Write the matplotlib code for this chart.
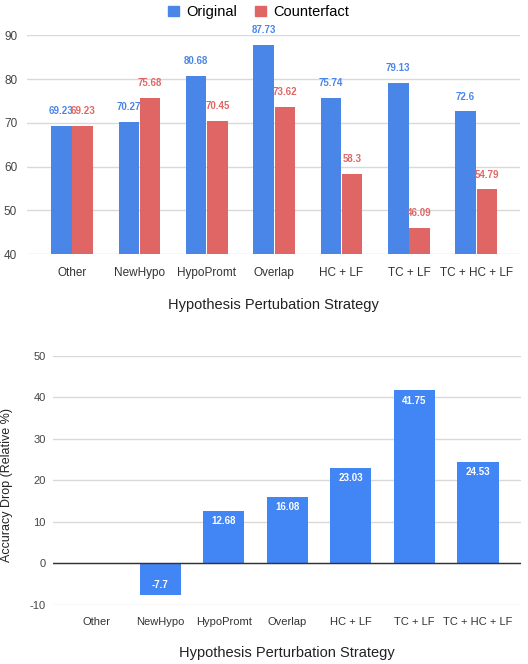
import numpy as np
import matplotlib.pyplot as plt
from matplotlib.patches import Patch

plt.rcParams['font.family'] = ['Liberation Sans', 'DejaVu Sans']
plt.rcParams['axes.unicode_minus'] = False

categories = ['Other', 'NewHypo', 'HypoPromt', 'Overlap', 'HC + LF', 'TC + LF', 'TC + HC + LF']
original = [69.23, 70.27, 80.68, 87.73, 75.74, 79.13, 72.6]
counterfact = [69.23, 75.68, 70.45, 73.62, 58.3, 46.09, 54.79]
acc_drop = [0, -7.7, 12.68, 16.08, 23.03, 41.75, 24.53]
top_yticks = [40, 50, 60, 70, 80, 90]
bot_yticks = [-10, 0, 10, 20, 30, 40, 50]

blue = '#4a86e8'
red = '#e06666'
blue2 = '#4285f4'
grid_c = '#d9d9d9'
tick_c = '#444444'

fig = plt.figure(figsize=(5.28, 6.64), dpi=100)
x = np.arange(len(categories))

# top chart: original vs counterfact
ax1 = fig.add_axes([0.051, 0.617, 0.934, 0.330])
w = 0.305
b1 = ax1.bar(x - w / 2 - 0.005, np.array(original) - 40, w, bottom=40, color=blue, zorder=3)
b2 = ax1.bar(x + w / 2 + 0.005, np.array(counterfact) - 40, w, bottom=40, color=red, zorder=3)
for bars, vals, c in [(b1, original, blue), (b2, counterfact, red)]:
    for r, v in zip(bars, vals):
        ax1.annotate(f'{v:g}', (r.get_x() + r.get_width() / 2, v), xytext=(0, 7),
                     textcoords='offset points', ha='center', va='bottom',
                     fontsize=7, fontweight='bold', color=c, annotation_clip=False)
ax1.set_xlim(-0.67, 6.65)
ax1.set_ylim(40, 90)
ax1.set_yticks(top_yticks)
ax1.set_xticks(x)
ax1.set_xticklabels(categories)
ax1.grid(axis='y', color=grid_c, lw=1, zorder=0)
for s in ax1.spines.values():
    s.set_visible(False)
ax1.tick_params(length=0, labelsize=8.5, colors=tick_c)
ax1.tick_params(axis='x', pad=9, colors='#333333')
ax1.tick_params(axis='y', pad=7)
ax1.set_xlabel('Hypothesis Pertubation Strategy', fontsize=10.5, color='#222222', va='center')
ax1.xaxis.set_label_coords(0.5, -0.23)

fig.legend(handles=[Patch(color=blue, label='Original'), Patch(color=red, label='Counterfact')],
           loc='upper center', bbox_to_anchor=(0.49, 1.012), ncol=2, frameon=False,
           fontsize=10.5, handlelength=0.75, handleheight=0.75, handletextpad=0.5, columnspacing=1.2)

# bottom chart: accuracy drop
ax2 = fig.add_axes([0.100, 0.089, 0.887, 0.375])
bars = ax2.bar(x, acc_drop, 0.65, color=blue2, zorder=3)
for r, v in zip(bars, acc_drop):
    if v == 0:
        continue
    ax2.annotate(f'{v:g}', (r.get_x() + r.get_width() / 2, v),
                 xytext=(0, -4 if v > 0 else 4), textcoords='offset points',
                 ha='center', va='top' if v > 0 else 'bottom',
                 fontsize=7, fontweight='bold', color='white', zorder=4)
ax2.set_xlim(-0.69, 6.68)
ax2.set_ylim(-10, 50)
ax2.set_yticks(bot_yticks)
ax2.set_xticks(x)
ax2.set_xticklabels(categories)
ax2.grid(axis='y', color=grid_c, lw=1, zorder=0)
ax2.axhline(0, color='#333333', lw=1, zorder=4)
for s in ax2.spines.values():
    s.set_visible(False)
ax2.tick_params(length=0, labelsize=8, colors=tick_c)
ax2.tick_params(axis='x', pad=9, colors='#333333')
ax2.tick_params(axis='y', pad=5)
ax2.set_xlabel('Hypothesis Perturbation Strategy', fontsize=10.5, color='#222222', va='center')
ax2.xaxis.set_label_coords(0.5, -0.195)
ax2.set_ylabel('Accuracy Drop (Relative %)', fontsize=9, color='#222222', va='center')
ax2.yaxis.set_label_coords(-0.098, 0.48)

fig.savefig('out.png', dpi=100)
